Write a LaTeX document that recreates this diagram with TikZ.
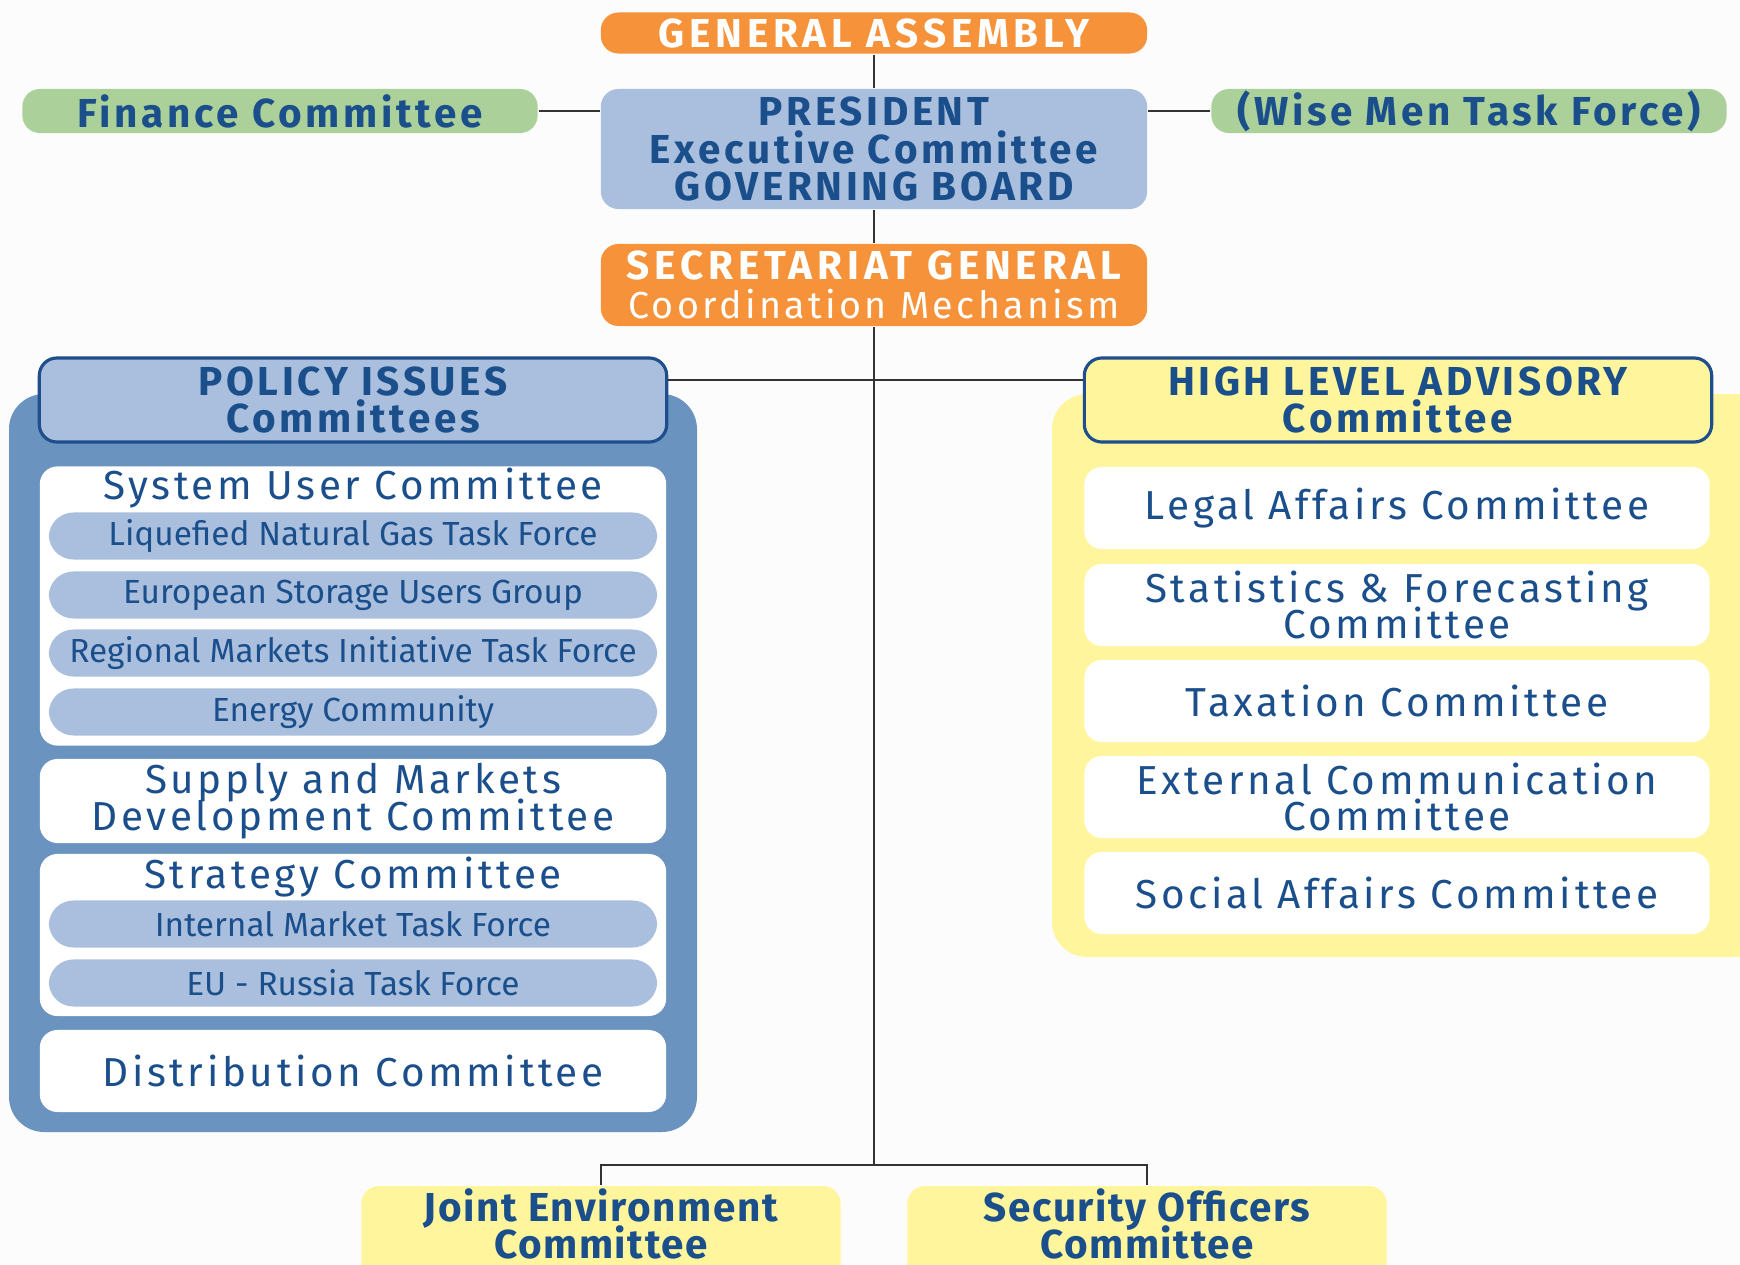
\documentclass[tikz,border=0pt]{standalone}
\usepackage{fontspec}
\setmainfont{Fira Sans}
\newfontfamily\widefont[LetterSpace=9]{Fira Sans}
\newfontfamily\widerfont[LetterSpace=12]{Fira Sans}
\newfontfamily\lowfont[LetterSpace=4]{Fira Sans}
\usetikzlibrary{positioning}
\definecolor{orgfill}{HTML}{F6923A}
\definecolor{bluefill}{HTML}{A9BFDD}
\definecolor{greenfill}{HTML}{ABD09A}
\definecolor{polfill}{HTML}{6A93BF}
\definecolor{hlafill}{HTML}{FFF59C}
\definecolor{txtblue}{HTML}{1B4F8C}
\definecolor{edgeblue}{HTML}{1F4E8C}
\definecolor{linegray}{HTML}{333333}
\newcommand{\tight}{\lineskiplimit=-20pt}

\begin{document}
\begin{tikzpicture}[x=0.01cm, y=-0.01cm, line width=0.6pt,
    box/.style={rounded corners=5pt, align=center, text=txtblue, inner sep=0pt,
        font=\widefont\fontsize{11.5}{10.4}\selectfont\tight},
    orgbox/.style={box, fill=orgfill, text=white, minimum width=5.46cm,
        font=\widerfont\fontsize{11.5}{11}\selectfont\bfseries\tight},
    bluebox/.style={box, fill=bluefill, minimum width=5.46cm,
        font=\widefont\fontsize{11.5}{10.6}\selectfont\bfseries\tight},
    greenbox/.style={box, fill=greenfill, minimum width=5.15cm, minimum height=0.44cm,
        font=\widefont\fontsize{11.5}{10.4}\selectfont\bfseries\tight},
    headbox/.style={box, draw=edgeblue, line width=0.9pt, minimum width=6.27cm, minimum height=0.84cm,
        font=\widefont\fontsize{11.5}{10.4}\selectfont\bfseries\tight},
    whitebox/.style={box, fill=white, minimum width=6.26cm},
    bar/.style={box, fill=bluefill, rounded corners=7pt, minimum width=6.08cm, minimum height=0.47cm,
        font=\fontsize{9.5}{10}\selectfont},
    lowbox/.style={box, fill=hlafill, anchor=north, minimum width=4.79cm, minimum height=1cm,
        text depth=0.25cm, font=\lowfont\fontsize{11.5}{10.5}\selectfont\bfseries\tight},
    conn/.style={draw=linegray, line width=0.6pt}
]
    \clip (0,0) rectangle (1740,1264);
    \fill[white!99!black] (0,0) rectangle (1740,1264);

    % Panels.
    \fill[polfill, rounded corners=10pt] (9,394) rectangle (697,1132);
    \fill[hlafill, rounded corners=10pt] (1052,394) rectangle (1770,957);

    % Top.
    \node[orgbox, minimum height=0.41cm] (ga) at (874,33) {GENERAL ASSEMBLY};
    \node[bluebox, minimum height=1.2cm] (pres) at (874,149)
        {PRESIDENT\\Executive Committee\\GOVERNING BOARD};
    \node[greenbox] (fin) at (280,111) {Finance Committee};
    \node[greenbox] (wise) at (1469,111) {(Wise Men Task Force)};
    \node[orgbox, minimum height=0.82cm] (sec) at (874,285)
        {SECRETARIAT GENERAL\\{\widefont\mdseries\fontsize{10.7}{11}\selectfont Coordination Mechanism}};

    % Policy issues.
    \node[headbox, fill=bluefill] (pol) at (353,400) {POLICY ISSUES\\Committees};
    \node[whitebox, minimum height=2.79cm] (sysu) at (353,606) {};
    \node[box] (sysut) at (353,488) {System User Committee};
    \foreach \y/\n/\t in {536/lng/Liquefied Natural Gas Task Force,
                          595/esug/European Storage Users Group,
                          653/rmi/Regional Markets Initiative Task Force,
                          712/ec/Energy Community}
    {
        \node[bar] (\n) at (353,\y) {\t};
    }
    \node[whitebox, minimum height=0.84cm] (supply) at (353,801)
        {Supply and Markets\\Development Committee};
    \node[whitebox, minimum height=1.62cm] (strat) at (353,935) {};
    \node[box] (stratt) at (353,877) {Strategy Committee};
    \node[bar] (imtf) at (353,924) {Internal Market Task Force};
    \node[bar] (eurtf) at (353,983) {EU - Russia Task Force};
    \node[whitebox, minimum height=0.82cm] (dist) at (353,1071) {Distribution Committee};

    % High level advisory.
    \node[headbox, fill=hlafill] (hla) at (1398,400) {HIGH LEVEL ADVISORY\\Committee};
    \foreach \y/\n/\t in {508/legal/Legal Affairs Committee,
                          605/stat/Statistics \& Forecasting\\Committee,
                          701/tax/Taxation Committee,
                          797/ext/External Communication\\Committee,
                          893/soc/Social Affairs Committee}
    {
        \node[whitebox, minimum width=6.25cm, minimum height=0.82cm] (\n) at (1397,\y) {\t};
    }

    % Bottom.
    \node[lowbox] (joint) at (601,1185) {Joint Environment\\Committee};
    \node[lowbox] (secoff) at (1147,1185) {Security Officers\\Committee};

    % Lines.
    \coordinate (split) at (874,1165);
    \draw[conn] (ga) -- (pres);
    \draw[conn] (pres) -- (sec);
    \draw[conn] (sec) -- (split);
    \draw[conn] (fin) -- (fin -| pres.west);
    \draw[conn] (wise) -- (wise -| pres.east);
    \draw[conn] ([yshift=0.2cm]pol.east) -- ([yshift=0.2cm]hla.west);
    \draw[conn] (joint.north) |- (split) -| (secoff.north);
\end{tikzpicture}
\end{document}
